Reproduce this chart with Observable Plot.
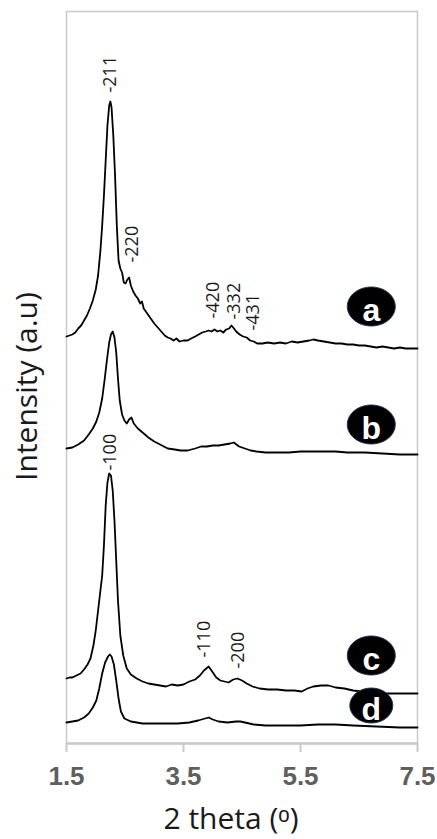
<!DOCTYPE html>
<html><head><meta charset="utf-8">
<script src="https://cdn.jsdelivr.net/npm/d3@7"></script>
<script src="https://cdn.jsdelivr.net/npm/@observablehq/plot@0.6"></script>
<style>body{margin:0;background:#fff}</style>
</head><body><div id="chart"></div>
<script>
// 2 theta (deg) and intensity (a.u.)
const aTheta=[1.50,1.55,1.60,1.65,1.70,1.75,1.80,1.85,1.90,1.95,2.00,2.04,2.08,2.11,2.14,2.17,2.20,2.23,2.25,2.27,2.30,2.33,2.36,2.39,2.42,2.45,2.48,2.51,2.54,2.57,2.60,2.64,2.68,2.72,2.76,2.79,2.82,2.88,2.94,3.00,3.06,3.12,3.18,3.23,3.28,3.33,3.38,3.43,3.50,3.57,3.63,3.70,3.76,3.82,3.88,3.93,3.98,4.03,4.08,4.13,4.18,4.23,4.28,4.32,4.35,4.40,4.46,4.52,4.58,4.64,4.70,4.76,4.85,4.94,5.05,5.15,5.25,5.35,5.45,5.55,5.65,5.72,5.80,5.90,6.00,6.10,6.20,6.30,6.40,6.50,6.60,6.70,6.80,6.90,7.00,7.10,7.20,7.30,7.40,7.50];
const aInt=[407,408,409,411,415,418,423,428,435,443,454,468,493,518,548,583,618,638,642,636,608,568,518,483,475,471,461,460,464,466,458,452,448,445,440,442,435,430,425,420,416,412,408,406,405,403,405,402,403,403,405,407,409,411,412,413,412,414,412,413,411,414,415,418,416,412,409,407,406,403,402,400,400,401,400,401,400,402,401,402,403,404,403,402,401,400,400,399,399,398,398,397,396,397,396,395,396,395,395,395];

const bTheta=[1.50,1.60,1.70,1.80,1.88,1.95,2.01,2.06,2.11,2.15,2.19,2.23,2.26,2.29,2.32,2.35,2.38,2.41,2.45,2.49,2.53,2.57,2.61,2.65,2.72,2.80,2.90,3.00,3.10,3.23,3.35,3.45,3.57,3.70,3.80,3.90,4.00,4.10,4.20,4.30,4.36,4.45,4.55,4.65,4.75,4.90,5.10,5.30,5.50,5.70,5.90,6.10,6.30,6.60,6.90,7.20,7.50];
const bInt=[295,296,299,303,309,315,322,331,345,363,383,401,409,412,406,391,365,343,329,323,320,324,326,320,315,311,306,302,299,295,294,293,293,295,297,297,298,298,299,300,301,297,295,293,292,291,291,291,292,292,292,292,291,291,290,289,289];

const cTheta=[1.50,1.55,1.60,1.67,1.74,1.80,1.86,1.91,1.96,2.00,2.04,2.08,2.11,2.14,2.17,2.20,2.23,2.26,2.29,2.32,2.35,2.38,2.42,2.47,2.53,2.60,2.70,2.80,2.90,3.00,3.10,3.20,3.30,3.40,3.50,3.60,3.70,3.78,3.85,3.93,3.99,4.06,4.13,4.20,4.27,4.35,4.42,4.50,4.58,4.68,4.80,4.95,5.10,5.25,5.40,5.52,5.62,5.72,5.85,5.98,6.10,6.25,6.40,6.55,6.70,6.90,7.10,7.30,7.50];
const cInt=[65,66,66,68,70,74,79,85,98,113,133,153,168,198,238,261,270,268,253,223,183,143,108,88,75,69,65,62,60,59,58,57,59,58,59,62,64,68,73,77,72,66,63,62,61,64,65,63,60,57,55,54,54,53,53,52,55,57,58,58,56,55,53,52,51,50,50,50,50];

const dTheta=[1.50,1.60,1.70,1.80,1.88,1.95,2.01,2.06,2.11,2.16,2.21,2.24,2.27,2.31,2.35,2.39,2.43,2.49,2.60,2.80,3.00,3.20,3.40,3.60,3.75,3.87,3.93,4.00,4.10,4.25,4.40,4.47,4.55,4.70,4.90,5.20,5.50,5.80,6.10,6.40,6.80,7.20,7.50];
const dInt=[21,22,23,26,30,36,43,55,70,81,87,89,87,79,63,45,32,25,22,20,20,20,20,21,23,25,26,24,22,21,22,22,21,19,18,18,18,19,19,18,17,16,16];

const xTicks=[1.5,3.5,5.5,7.5];

const peakLabels=["-211","-220","-420","-332","-431","-100","-110","-200"];
const peakTheta=[2.25,2.63,4.00,4.37,4.70,2.25,3.86,4.44];
const peakInt=[651,481,425,424,413,273,86,75];

const sampleNames=["a","b","c","d"];
const sampleTheta=[6.71,6.71,6.71,6.71];
const sampleInt=[437,319,88,38];

const series=[["a",aTheta,aInt],["b",bTheta,bInt],["c",cTheta,cInt],["d",dTheta,dInt]];
const rows=series.flatMap(([k,t,v])=>t.map((x,i)=>({sample:k,theta:x,intensity:v[i]})));
const peaks=peakLabels.map((l,i)=>({label:l,theta:peakTheta[i],intensity:peakInt[i]}));
const badges=sampleNames.map((n,i)=>({name:n,theta:sampleTheta[i],intensity:sampleInt[i]}));

function ellipse(rx,ry){
  const k=0.5523;
  return {draw(ctx){
    ctx.moveTo(rx,0);
    ctx.bezierCurveTo(rx,ry*k,rx*k,ry,0,ry);
    ctx.bezierCurveTo(-rx*k,ry,-rx,ry*k,-rx,0);
    ctx.bezierCurveTo(-rx,-ry*k,-rx*k,-ry,0,-ry);
    ctx.bezierCurveTo(rx*k,-ry,rx,-ry*k,rx,0);
    ctx.closePath();
  }};
}

const chart=Plot.plot({
  width:437,height:839,
  marginLeft:66,marginRight:20,marginTop:11,marginBottom:96,
  x:{domain:[1.5,7.5]},
  y:{domain:[0,732],axis:null},
  marks:[
    Plot.frame({stroke:"#c9c9c9",strokeWidth:1.5}),
    Plot.ruleY([0],{stroke:"#c9c9c9",strokeWidth:2.5}),
    Plot.axisX({ticks:xTicks,tickFormat:d3.format(".1f"),tickSize:9,tickPadding:14,stroke:"#c9c9c9",strokeWidth:2,fill:"#5f5f5f",fontSize:26,fontWeight:"bold",fontFamily:"Liberation Sans, Arial, sans-serif",label:null}),
    Plot.line(rows,{x:"theta",y:"intensity",z:"sample",stroke:"#000",strokeWidth:1.8,strokeLinejoin:"round"}),
    Plot.text(peaks,{x:"theta",y:"intensity",text:"label",rotate:-90,textAnchor:"start",lineAnchor:"middle",fontSize:18,fontFamily:"Open Sans, sans-serif",fill:"#1a1a1a"}),
    Plot.dot(badges.filter(d=>d.name!=="d"),{x:"theta",y:"intensity",symbol:ellipse(24,19.5),fill:"#000",stroke:"#1f3a5f",strokeWidth:1}),
    Plot.dot(badges.filter(d=>d.name==="d"),{x:"theta",y:"intensity",symbol:ellipse(21.5,17.5),fill:"#000",stroke:"#1f3a5f",strokeWidth:1}),
    Plot.text(badges,{x:"theta",y:"intensity",text:"name",fill:"#fff",fontWeight:"bold",fontSize:32,fontFamily:"Liberation Sans, Arial, sans-serif",dy:4}),
    Plot.text(["Intensity (a.u)"],{frameAnchor:"left",rotate:-90,textAnchor:"middle",lineAnchor:"middle",dx:-39.5,dy:9,fontSize:30,fontFamily:"Open Sans, sans-serif",fill:"#1a1a1a"}),
    Plot.text(["2 theta (ᵒ)"],{frameAnchor:"bottom",textAnchor:"middle",lineAnchor:"middle",dx:-11,dy:76,fontSize:30,fontFamily:"Open Sans, sans-serif",fill:"#1a1a1a"})
  ]
});
document.getElementById("chart").append(chart);
</script>
</body></html>
